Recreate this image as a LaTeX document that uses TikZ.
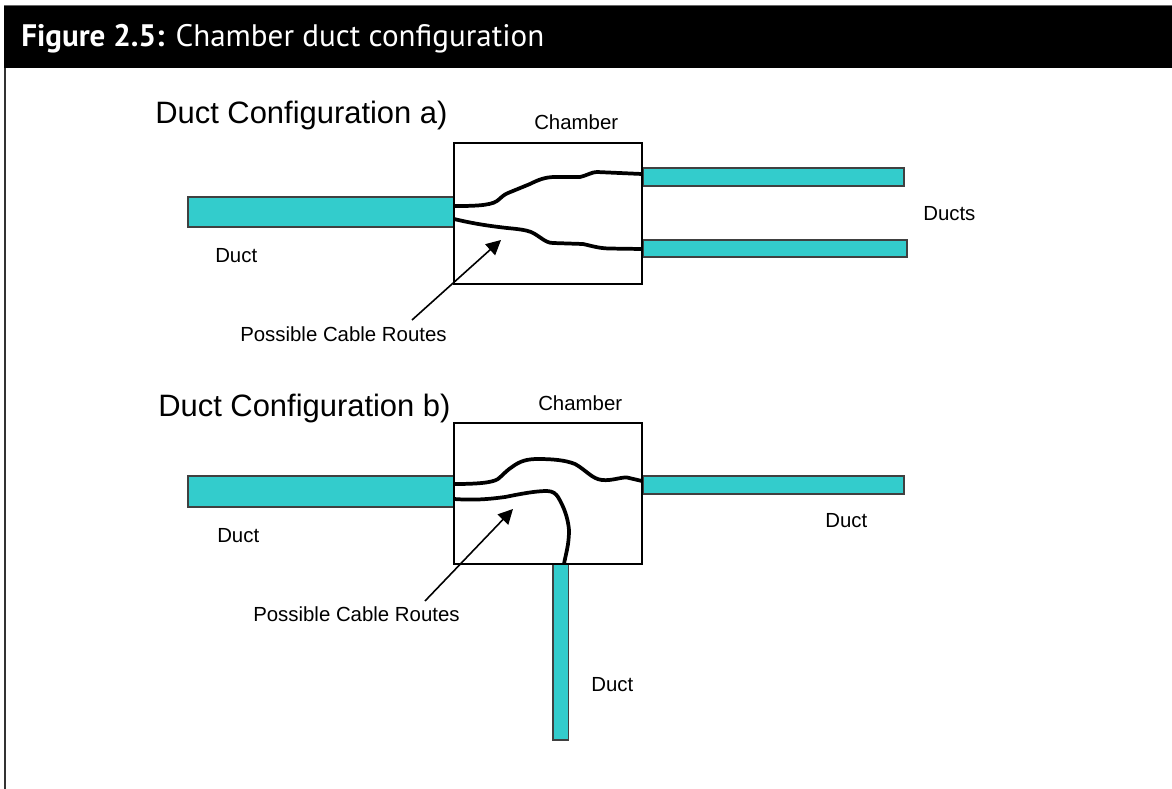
\documentclass[tikz,border=0pt]{standalone}
\usepackage{fontspec}
\setmainfont{Liberation Sans}
\newfontfamily\headfont{PT Sans}
\usetikzlibrary{arrows.meta}
\definecolor{ductc}{RGB}{51,204,204}
\tikzset{
  x=0.75pt,y=-0.75pt,
  ductbox/.style={draw=black!75,fill=ductc,line width=1.1pt},
  chamberbox/.style={draw=black,line width=1.8pt,fill=white},
  cable/.style={draw=black,line width=2.8pt,line join=round},
  pointer/.style={draw=black,line width=1.2pt,-{Triangle[length=11pt,width=11pt]}},
  lbl/.style={inner sep=0pt,anchor=base west,font=\fontsize{15.3}{17}\selectfont},
  biglbl/.style={inner sep=0pt,anchor=base west,font=\fontsize{23.2}{25}\selectfont},
}
\begin{document}
\begin{tikzpicture}
\useasboundingbox (0,0) rectangle (1172,789);
\draw[black!60,line width=0.8pt] (4,5.5) -- (1172,5.5);
\fill[black] (4,6) rectangle (1172,68);
\draw[black!80,line width=1.1pt] (5,68) -- (5,789);
\node[inner sep=0pt,anchor=base west,text=white,font=\fontsize{23.3}{25}\selectfont\headfont] (title) at (21,46) {\textbf{Figure 2.5:} Chamber duct configuration};
% a
\node[biglbl] (ha) at (155,123.5) {Duct Configuration a)};
\node[lbl] (cha) at (534,129.5) {Chamber};
\path[ductbox] (188,197) rectangle (454,227);
\path[ductbox] (643,168) rectangle (904,186);
\path[ductbox] (643,240) rectangle (907,257);
\path[chamberbox] (454,143) rectangle (642,284);
\node[lbl] (da) at (215,262) {Duct};
\node[lbl] (dsa) at (923,220.5) {Ducts};
\node[lbl] (ra) at (240,341) {Possible Cable Routes};
\draw[cable] (454,206) .. controls (470,206) and (490,206) .. (497,201) .. controls (501,198) and (503,195) .. (508,193) -- (530,184) .. controls (538,180) and (545,177) .. (555,177) -- (580,177) .. controls (588,175) and (592,172) .. (597,172) -- (642,174);
\draw[cable] (454,219) .. controls (475,224) and (490,226) .. (507,228) .. controls (518,229) and (526,230) .. (531,232) .. controls (540,236) and (545,243) .. (553,243) -- (583,244) .. controls (592,246) and (598,248) .. (608,248.5) -- (642,249);
\coordinate (ta) at (501,240);
\coordinate (fa) at (412,320);
\draw[pointer] (fa) -- (ta);
% b
\node[biglbl] (hb) at (158,416.5) {Duct Configuration b)};
\node[lbl] (chb) at (538,410) {Chamber};
\path[ductbox] (188,476) rectangle (454,507);
\path[ductbox] (643,476) rectangle (904,494);
\path[ductbox] (553,564) rectangle (568.5,740);
\path[chamberbox] (454,423) rectangle (642,564);
\node[lbl] (db) at (217,542.5) {Duct};
\node[lbl] (db2) at (825,527) {Duct};
\node[lbl] (db3) at (591,691) {Duct};
\node[lbl] (rb) at (253,621.5) {Possible Cable Routes};
\draw[cable] (454,484) .. controls (475,484) and (492,483) .. (498,479) .. controls (503,475) and (507,470) .. (512,467) .. controls (520,461) and (527,459) .. (538,459) .. controls (552,459) and (565,460) .. (575,464) .. controls (586,470) and (592,479) .. (602,480) .. controls (612,481) and (621,477) .. (627,477.5) -- (642,481);
\draw[cable] (454,499) .. controls (475,500.5) and (490,499) .. (505,497) .. controls (520,494) and (535,491) .. (547,491) .. controls (553,491) and (556,494) .. (558,497) .. controls (564,507) and (568,518) .. (569,530) .. controls (569,545) and (566,553) .. (564,564);
\coordinate (tb) at (513,509);
\coordinate (fb) at (425,601);
\draw[pointer] (fb) -- (tb);
\end{tikzpicture}
\end{document}
